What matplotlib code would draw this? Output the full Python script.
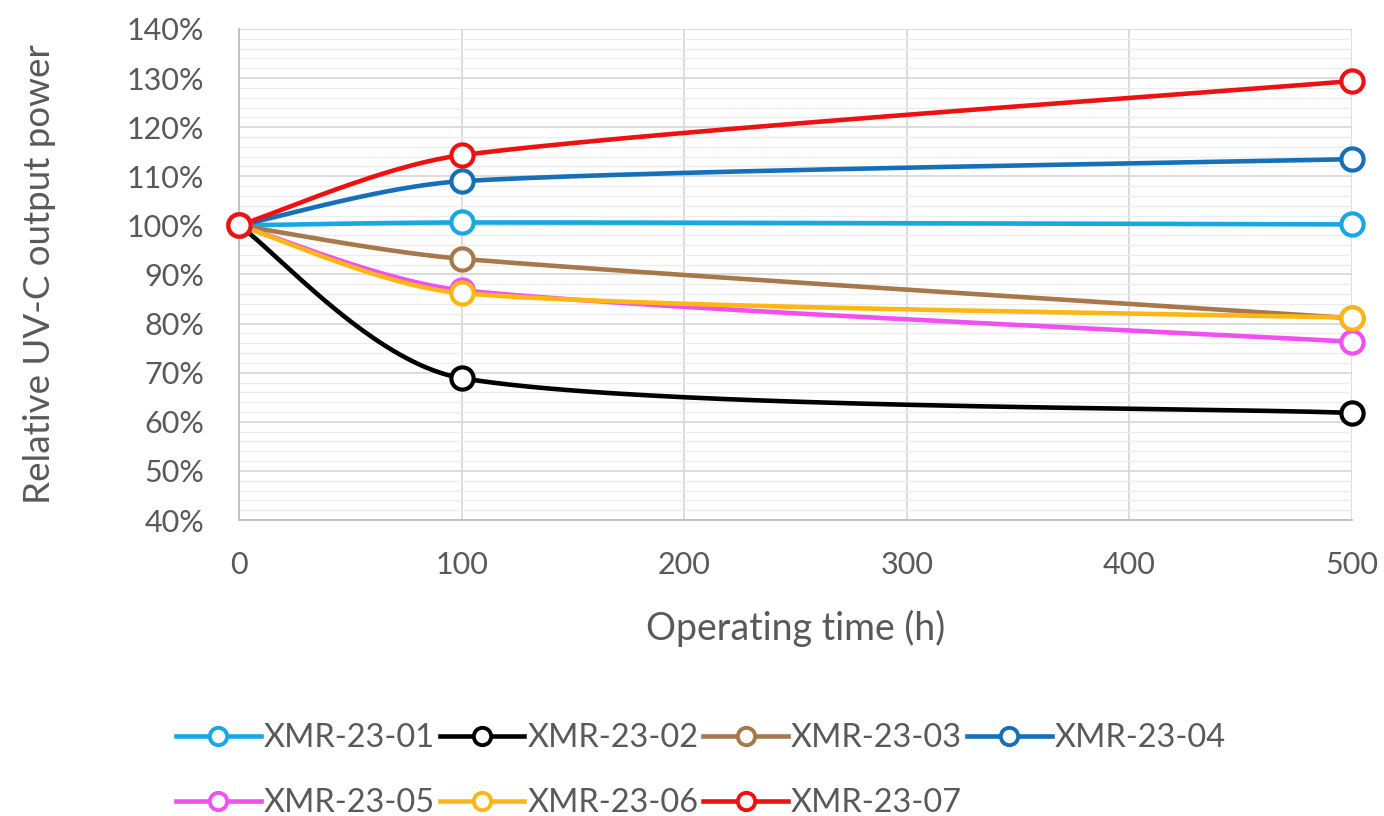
import numpy as np
import matplotlib
matplotlib.use("Agg")
import matplotlib.pyplot as plt
from matplotlib.ticker import MultipleLocator, FuncFormatter

# ---- data ----
hours = [0, 100, 500]
series_names = ["XMR-23-01", "XMR-23-02", "XMR-23-03", "XMR-23-04",
                "XMR-23-05", "XMR-23-06", "XMR-23-07"]
xmr01 = [100, 100.6, 100.2]
xmr02 = [100, 68.9, 61.8]
xmr03 = [100, 93.2, 81.1]
xmr04 = [100, 109.0, 113.5]
xmr05 = [100, 86.8, 76.3]
xmr06 = [100, 86.2, 81.2]
xmr07 = [100, 114.3, 129.4]
series_values = [xmr01, xmr02, xmr03, xmr04, xmr05, xmr06, xmr07]
colors = ["#17a8e3", "#000000", "#a6784a", "#1570b8",
          "#f24ff2", "#fdb714", "#ee1111"]
y_ticks = [40, 50, 60, 70, 80, 90, 100, 110, 120, 130, 140]
x_ticks = [0, 100, 200, 300, 400, 500]

FONT = "Lato"
TXT = "#595959"
plt.rcParams["font.family"] = [FONT, "DejaVu Sans"]

W, H = 1384, 816
fig = plt.figure(figsize=(W / 100, H / 100), dpi=100)
L, R, T, B = 239, 1352, 29, 520
ax = fig.add_axes([L / W, 1 - B / H, (R - L) / W, (B - T) / H])
ax.set_xlim(0, 500)
ax.set_ylim(40, 140)

sx = (R - L) / 500.0
sy = (B - T) / 100.0


def excel_smooth(xs, ys, n=80):
    P = np.column_stack([np.asarray(xs, float) * sx, np.asarray(ys, float) * sy])
    N = len(P)
    out = []
    for i in range(N - 1):
        p0 = P[i - 1] if i > 0 else P[i]
        p1, p2 = P[i], P[i + 1]
        p3 = P[i + 2] if i + 2 < N else P[i + 1]
        seg = np.linalg.norm(p2 - p1)
        d1 = (p2 - p0) / 6.0
        d2 = (p3 - p1) / 6.0
        for d in (d1, d2):
            nd = np.linalg.norm(d)
            if nd > seg / 3.0:
                d *= (seg / 3.0) / nd
        c1 = p1 + d1
        c2 = p2 - d2
        t = np.linspace(0, 1, n)[:, None]
        pts = ((1 - t) ** 3) * p1 + 3 * ((1 - t) ** 2) * t * c1 + 3 * (1 - t) * t ** 2 * c2 + t ** 3 * p2
        out.append(pts if i == 0 else pts[1:])
    pts = np.vstack(out)
    return pts[:, 0] / sx, pts[:, 1] / sy


# grid
ax.yaxis.set_minor_locator(MultipleLocator(2))
ax.set_yticks(y_ticks)
ax.set_xticks(x_ticks)
ax.grid(True, which="major", axis="both", color="#d9d9d9", lw=1.3, zorder=0)
ax.grid(True, which="minor", axis="y", color="#ececec", lw=1.0, zorder=0)
ax.set_axisbelow(True)
for s in ["top", "right"]:
    ax.spines[s].set_visible(False)
for s in ["left", "bottom"]:
    ax.spines[s].set_color("#bfbfbf")
    ax.spines[s].set_linewidth(1.3)

ax.tick_params(axis="both", which="both", length=0)
ax.tick_params(axis="y", pad=25, labelsize=22, labelcolor=TXT)
ax.tick_params(axis="x", pad=22, labelsize=22, labelcolor=TXT)
ax.yaxis.set_major_formatter(FuncFormatter(lambda v, p: f"{int(round(v))}%"))

handles = []
for name, vals, c in zip(series_names, series_values, colors):
    xs, ys = excel_smooth(hours, vals)
    ax.plot(xs, ys, color=c, lw=3.3, solid_capstyle="round", zorder=3, clip_on=False)
    ax.plot(hours, vals, ls="none", marker="o", ms=16, mew=3.0, mfc="white",
            mec=c, zorder=4, clip_on=False)
    h, = ax.plot([], [], color=c, lw=3.3, marker="o", ms=12.5, mew=2.8,
                 mfc="white", mec=c, label=name)
    handles.append(h)

fig.text((L + R) / 2 / W, 1 - 628 / H, "Operating time (h)", ha="center",
         va="center", fontsize=27, color=TXT)
fig.text(40 / W, 1 - (T + B) / 2 / H, "Relative UV-C output power", ha="center",
         va="center", rotation=90, fontsize=26.5, color=TXT)

# legend filled row-wise (matplotlib fills column-wise)
order = [0, 4, 1, 5, 2, 6, 3]
leg = fig.legend(handles=[handles[i] for i in order], loc="upper left", ncol=4,
                 bbox_to_anchor=(176 / W, 1 - 723 / H), frameon=False,
                 fontsize=23.4, handlelength=2.6, handletextpad=0.1,
                 columnspacing=0.15, labelspacing=1.08, borderpad=0,
                 borderaxespad=0)
for t in leg.get_texts():
    t.set_color(TXT)

fig.savefig("out.png", dpi=100)
